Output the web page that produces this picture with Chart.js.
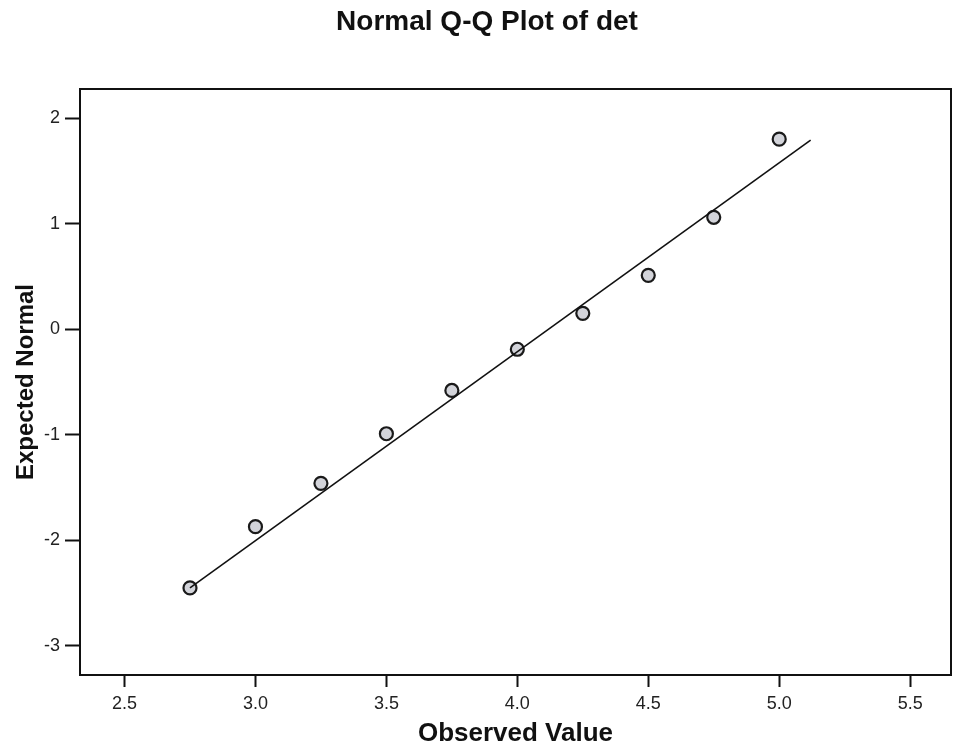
<!DOCTYPE html>
<html>
<head>
<meta charset="utf-8">
<script src="https://cdn.jsdelivr.net/npm/chart.js@4"></script>
<style>
    html, body { margin: 0; padding: 0; background: #fff; }
    #wrap { width: 953px; height: 751px; }
</style>
</head>
<body>
<div id="wrap"><canvas id="qqChart" width="953" height="751"></canvas></div>
<script>
const observed = [2.75, 3.0, 3.25, 3.5, 3.75, 4.0, 4.25, 4.5, 4.75, 5.0];
const expected = [-2.45, -1.87, -1.46, -0.99, -0.58, -0.19, 0.15, 0.51, 1.06, 1.80];

// reference line end points
const lineX = [2.75, 5.12];
const lineY = [-2.45, 1.79];

const xTicks = [2.5, 3.0, 3.5, 4.0, 4.5, 5.0, 5.5];
const yTicks = [-3, -2, -1, 0, 1, 2];

const chartTitle = 'Normal Q-Q Plot of det';
const fontFamily = 'Arial, "Liberation Sans", Helvetica, sans-serif';

// box round the plot area plus the heading, placed like the original
const frameBox = {
    id: 'frameBox',
    afterDatasetsDraw(chart) {
        const { ctx, chartArea: a } = chart;
        ctx.save();
        ctx.strokeStyle = '#111';
        ctx.lineWidth = 2;
        ctx.strokeRect(a.left, a.top, a.right - a.left, a.bottom - a.top);
        ctx.fillStyle = '#111';
        ctx.font = 'bold 28px ' + fontFamily;
        ctx.textAlign = 'center';
        ctx.textBaseline = 'middle';
        ctx.fillText(chartTitle, 487, 22);
        ctx.restore();
    }
};

const ctx = document.getElementById('qqChart').getContext('2d');

new Chart(ctx, {
    type: 'scatter',
    data: {
        datasets: [
            {
                type: 'line',
                label: 'Reference',
                data: lineX.map((x, i) => ({ x: x, y: lineY[i] })),
                borderColor: '#111',
                borderWidth: 1.6,
                pointRadius: 0,
                fill: false
            },
            {
                label: 'det',
                data: observed.map((x, i) => ({ x: x, y: expected[i] })),
                backgroundColor: '#d3d4da',
                borderColor: '#1a1a1a',
                borderWidth: 2.2,
                pointRadius: 6.5
            }
        ]
    },
    options: {
        responsive: false,
        animation: false,
        layout: { autoPadding: false, padding: { left: 0, right: 2, top: 89, bottom: 0 } },
        plugins: {
            legend: { display: false },
            tooltip: { enabled: false },
            title: { display: false }
        },
        scales: {
            x: {
                type: 'linear',
                min: 2.33,
                max: 5.656,
                afterBuildTicks: scale => { scale.ticks = xTicks.map(v => ({ value: v })); },
                afterFit: scale => {
                    scale.height = 76;
                    scale.paddingLeft = 0;
                    scale.paddingRight = 0;
                },
                grid: { drawOnChartArea: false, drawTicks: true, tickLength: 12, tickColor: '#111', tickWidth: 2 },
                border: { color: '#111', width: 2 },
                ticks: {
                    color: '#222',
                    padding: 6,
                    font: { family: fontFamily, size: 18 },
                    callback: v => Number(v).toFixed(1)
                },
                title: {
                    display: true,
                    text: 'Observed Value',
                    color: '#111',
                    font: { family: fontFamily, size: 26, weight: 'bold' },
                    padding: { top: 2, bottom: 2 }
                }
            },
            y: {
                type: 'linear',
                min: -3.275,
                max: 2.275,
                afterBuildTicks: scale => { scale.ticks = yTicks.map(v => ({ value: v })); },
                afterFit: scale => { scale.width = 80; },
                grid: { drawOnChartArea: false, drawTicks: true, tickLength: 15, tickColor: '#111', tickWidth: 2 },
                border: { color: '#111', width: 2 },
                ticks: {
                    color: '#222',
                    padding: 5,
                    font: { family: fontFamily, size: 18 },
                    callback: v => String(v)
                },
                title: {
                    display: true,
                    text: 'Expected Normal',
                    color: '#111',
                    font: { family: fontFamily, size: 24, weight: 'bold' },
                    padding: { top: 12, bottom: 0 }
                }
            }
        }
    },
    plugins: [frameBox]
});
</script>
</body>
</html>
